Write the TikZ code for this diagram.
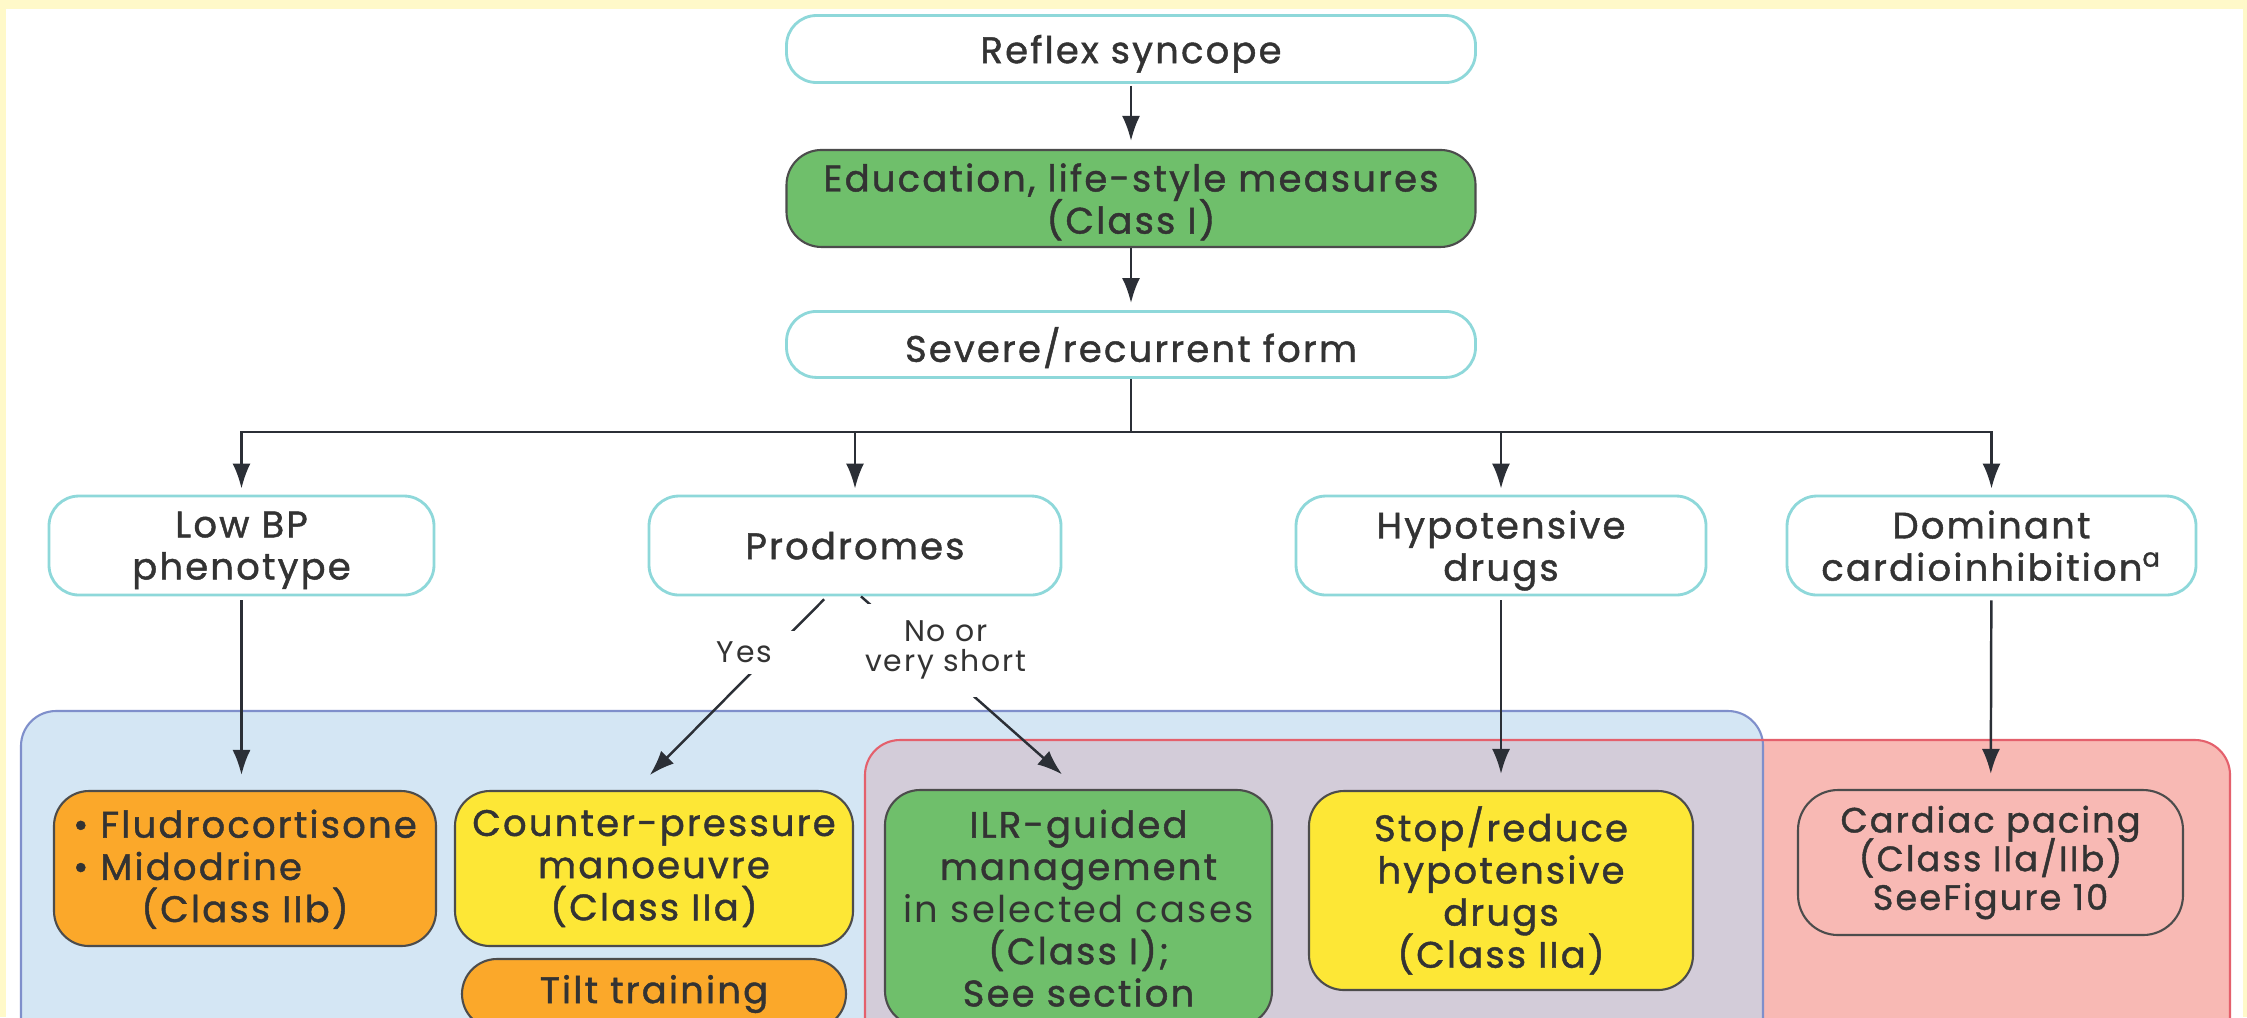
\documentclass[tikz,border=0pt]{standalone}
\usepackage{fontspec}
\setmainfont{Poppins}[BoldFont=Poppins, BoldFeatures={FakeBold=1.2}, LetterSpace=6]
\usepackage{tikz}
\usetikzlibrary{arrows.meta,positioning,calc}
\setlength{\lineskiplimit}{-8pt}
\definecolor{SyncFrame}{HTML}{FFF9C9}
\definecolor{SyncCyan}{HTML}{8ED8DA}
\definecolor{SyncGreen}{HTML}{6FBF6B}
\definecolor{SyncAmber}{HTML}{FBA82A}
\definecolor{SyncYellow}{HTML}{FDE736}
\definecolor{SyncBlue}{HTML}{D4E6F4}
\definecolor{SyncBlueLine}{HTML}{7F8FCB}
\definecolor{SyncRed}{HTML}{F8B9B4}
\definecolor{SyncRedLine}{HTML}{E4606C}
\definecolor{SyncMauve}{HTML}{D3CCD9}
\definecolor{SyncInk}{HTML}{2B2F36}
\definecolor{SyncText}{HTML}{333333}
\tikzset{
  base/.style={align=center, text=SyncText, font=\fontsize{10.5}{12}\selectfont\bfseries, inner sep=2pt},
  question/.style={base, draw=SyncCyan, line width=0.8pt, rounded corners=3mm, fill=white,
    minimum height=9.9mm, text depth=0pt},
  classone/.style={base, draw=black!70, line width=0.6pt, rounded corners=3.5mm, fill=SyncGreen,
    text depth=0pt},
  classtwoa/.style={base, draw=black!70, line width=0.6pt, rounded corners=3.5mm, fill=SyncYellow},
  classtwob/.style={base, draw=black!70, line width=0.6pt, rounded corners=3.5mm, fill=SyncAmber},
  pacing/.style={base, draw=black!70, line width=0.6pt, rounded corners=4mm,
    font=\fontsize{10}{11}\selectfont\bfseries},
  wire/.style={-{Latex[length=2.5mm, width=1.8mm]}, line width=0.7pt, draw=SyncInk},
  trunk/.style={line width=0.7pt, draw=SyncInk},
  branchlabel/.style={base, fill=white, font=\fontsize{8.5}{8.5}\selectfont, inner xsep=1mm}
}

\begin{document}
\begin{tikzpicture}[x=0.1mm, y=-0.1mm, node distance=6.7mm]
  \useasboundingbox (0,0) rectangle (2247,1017);
  % frame and the two treatment regions
  \fill[SyncFrame] (0,0) rectangle (2247,1017);
  \fill[white] (6,9) rectangle (2243,1017);
  \fill[SyncBlue, rounded corners=3.5mm] (21,711) rectangle (1763,1090);
  \fill[SyncRed, rounded corners=3.5mm] (865,740) rectangle (2230,1090);
  \begin{scope}
    \clip[rounded corners=3.5mm] (21,711) rectangle (1763,1090);
    \fill[SyncMauve, rounded corners=3.5mm] (865,740) rectangle (2230,1090);
  \end{scope}
  \draw[SyncBlueLine, line width=0.6pt, rounded corners=3.5mm] (21,711) rectangle (1763,1090);
  \draw[SyncRedLine, line width=0.6pt, rounded corners=3.5mm] (865,740) rectangle (2230,1090);

  % main column
  \node[question, minimum width=68.9mm, minimum height=6.7mm] (reflex) at (1131,49) {Reflex syncope};
  \node[classone, minimum width=68.9mm, minimum height=9.7mm, below=6.5mm of reflex] (edu)
    {Education, life-style measures\\(Class I)};
  \node[question, minimum width=68.9mm, minimum height=6.6mm, below=6.2mm of edu] (severe)
    {Severe/recurrent form};

  % phenotypes
  \node[question, minimum width=38.5mm] (lowbp) at (241.5,545.5) {Low BP\\phenotype};
  \node[question, minimum width=41.2mm] (prodromes) at (855,545.5) {Prodromes};
  \node[question, minimum width=41mm] (hypo) at (1501,545.5) {Hypotensive\\drugs};
  \node[question, minimum width=40.9mm] (cardioinh) at (1991.5,545.5)
    {Dominant\\cardioinhibition\textsuperscript{a}};

  % therapies
  \node[classtwob, minimum width=38.2mm, minimum height=15.5mm] (fludro) at (245,868.5)
    {\begin{tabular}[b]{@{}l@{}}\textbullet\ Fludrocortisone\\\textbullet\ Midodrine\end{tabular}\\(Class IIb)};
  \node[classtwoa, minimum width=39.8mm, minimum height=15.5mm] (counter) at (654,868.5)
    {Counter-pressure\\manoeuvre\\(Class IIa)};
  \node[classtwob, minimum width=38.4mm, minimum height=7mm] (tilt) at (654,994) {Tilt training};
  \node[classone, minimum width=38.7mm, minimum height=23.6mm] (ilr) at (1078.5,908)
    {ILR-guided\\management\\{\mdseries in selected cases}\\(Class I);\\See section};
  \node[classtwoa, minimum width=38.4mm, minimum height=19.9mm] (stop) at (1501,890.5)
    {Stop/reduce\\hypotensive\\drugs\\(Class IIa)};
  \node[pacing, minimum width=38.5mm, minimum height=14.5mm] (pace) at (1990.5,862.5)
    {Cardiac pacing\\(Class IIa/IIb)\\SeeFigure 10};

  % connectors
  \draw[wire, shorten <=0.2mm, shorten >=0.8mm] (reflex) -- (edu);
  \draw[wire, shorten >=0.7mm] (edu) -- (severe);
  \coordinate (split) at (1131,432);
  \draw[trunk] (severe) -- (split);
  \foreach \target in {lowbp, prodromes, hypo, cardioinh}
    \draw[wire, shorten >=0.6mm] (split) -| (\target);
  \draw[wire, shorten <=0.4mm, shorten >=1.5mm] (lowbp) -- (lowbp |- fludro.north);
  \draw[wire, shorten <=0.4mm, shorten >=2.1mm] ([xshift=-2.8mm]prodromes.south)
    -- node[branchlabel, pos=0.31, xshift=-2.3mm, yshift=0.4mm, inner xsep=2.4mm, inner ysep=1.1mm] {Yes}
    ([xshift=-1.9mm]counter.north);
  \draw[wire, shorten >=2.2mm] ([xshift=0.6mm]prodromes.south)
    -- node[branchlabel, pos=0.28, xshift=2.4mm, minimum height=9.3mm] {No or\\very short}
    (ilr.north);
  \draw[wire, shorten <=0.4mm, shorten >=1.6mm] (hypo) -- (stop);
  \draw[wire, shorten <=0.4mm, shorten >=1.5mm] (cardioinh) -- (pace);
\end{tikzpicture}
\end{document}
